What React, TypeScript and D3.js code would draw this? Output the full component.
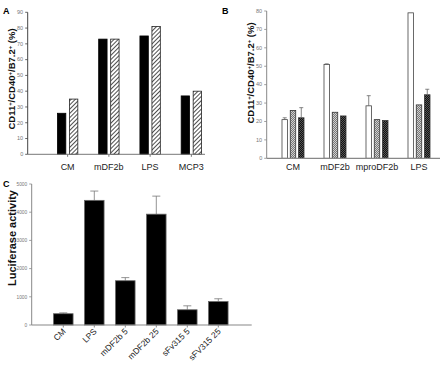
import React, { useEffect, useRef } from 'react'
import * as d3 from 'd3'

// panel A
const catsA = ['CM', 'mDF2b', 'LPS', 'MCP3']
const seriesA = ['solid', 'hatch']
const valuesA = [
  [26, 35],
  [73, 73],
  [75, 81],
  [37, 40]
]
const ticksA = [0, 10, 20, 30, 40, 50, 60, 70, 80, 90]

// panel B
const catsB = ['CM', 'mDF2b', 'mproDF2b', 'LPS']
const seriesB = ['white', 'gray', 'dark']
const valuesB = [
  [21, 26, 22],
  [51, 25, 23],
  [28.5, 21, 20.5],
  [79, 29, 34.5]
]
const errorsB = [
  [1, 0, 5.5],
  [0.3, 0, 0],
  [5.5, 0, 0],
  [0, 0, 3]
]
const ticksB = [0, 10, 20, 30, 40, 50, 60, 70, 80]

// panel C
const catsC = ['CM', 'LPS', 'mDF2b 5', 'mDF2b 25', 'sFv315 5', 'sFV315 25']
const valuesC = [400, 4420, 1570, 3930, 540, 830]
const errorsC = [30, 330, 110, 640, 140, 100]
const ticksC = [0, 1000, 2000, 3000, 4000, 5000]

const FONT = '"Liberation Sans", Arial, sans-serif'

const App = () => {
  const ref = useRef<SVGSVGElement>(null)

  useEffect(() => {
    const svg = d3.select(ref.current)
    svg.selectAll('*').remove()

    // 图案
    const defs = svg.append('defs')
    const hatch = defs
      .append('pattern')
      .attr('id', 'hatch')
      .attr('patternUnits', 'userSpaceOnUse')
      .attr('width', 3)
      .attr('height', 10)
      .attr('patternTransform', 'rotate(45)')
    hatch.append('rect').attr('width', 3).attr('height', 10).attr('fill', '#fff')
    hatch
      .append('line')
      .attr('x1', 0.5)
      .attr('y1', 0)
      .attr('x2', 0.5)
      .attr('y2', 10)
      .attr('stroke', '#222')
      .attr('stroke-width', 0.8)

    function checker(id: string, c1: string, c2: string) {
      const p = defs
        .append('pattern')
        .attr('id', id)
        .attr('patternUnits', 'userSpaceOnUse')
        .attr('width', 2)
        .attr('height', 2)
      p.append('rect').attr('width', 2).attr('height', 2).attr('fill', c1)
      p.append('rect').attr('width', 1).attr('height', 1).attr('fill', c2)
      p.append('rect').attr('x', 1).attr('y', 1).attr('width', 1).attr('height', 1).attr('fill', c2)
    }
    checker('checkGray', '#777', '#d0d0d0')
    checker('checkDark', '#111', '#555')

    // 坐标轴通用
    function yAxis(g: any, scale: any, ticks: number[], x: number, color: string, fs = 5.5) {
      g.append('line')
        .attr('x1', x)
        .attr('x2', x)
        .attr('y1', scale(ticks[ticks.length - 1]))
        .attr('y2', scale(0))
        .attr('stroke', color)
        .attr('stroke-width', 1)
      ticks.forEach((t) => {
        g.append('line')
          .attr('x1', x - 2.5)
          .attr('x2', x)
          .attr('y1', scale(t))
          .attr('y2', scale(t))
          .attr('stroke', color)
          .attr('stroke-width', 0.8)
        g.append('text')
          .text(t)
          .attr('x', x - 4.5)
          .attr('y', scale(t) + 1.8)
          .attr('text-anchor', 'end')
          .style('font-size', fs + 'px')
          .style('font-family', FONT)
          .attr('fill', '#777')
      })
    }

    function yTitle(g: any, x: number, y: number, size: number, parts: [string, boolean][]) {
      const t = g
        .append('text')
        .attr('transform', `translate(${x},${y}) rotate(-90)`)
        .attr('text-anchor', 'middle')
        .style('font-size', size + 'px')
        .style('font-weight', 'bold')
        .style('font-family', FONT)
        .attr('fill', '#111')
      parts.forEach(([s, sup]) => {
        t.append('tspan')
          .text(s)
          .attr('baseline-shift', sup ? 'super' : null)
          .style('font-size', sup ? size * 0.62 + 'px' : null)
      })
    }

    const cdTitle: [string, boolean][] = [
      ['CD11', false],
      ['+', true],
      ['/CD40', false],
      ['+', true],
      ['/B7.2', false],
      ['+', true],
      [' (%)', false]
    ]

    function letter(s: string, x: number, y: number) {
      svg
        .append('text')
        .text(s)
        .attr('x', x)
        .attr('y', y)
        .style('font-size', '9px')
        .style('font-weight', 'bold')
        .style('font-family', FONT)
    }

    // ---------- A ----------
    const gA = svg.append('g')
    const yA = d3.scaleLinear().domain([0, 90]).range([154.3, 12.3])
    const xA = d3.scaleBand().domain(catsA).range([47, 212])
    const bwA = xA.bandwidth()
    const subA = d3
      .scaleBand()
      .domain(seriesA)
      .range([bwA / 2 - 10.2, bwA / 2 + 10.2])
      .paddingInner(0.3)

    catsA.forEach((c, i) => {
      seriesA.forEach((s, j) => {
        const v = valuesA[i][j]
        gA.append('rect')
          .attr('x', xA(c)! + subA(s)!)
          .attr('y', yA(v))
          .attr('width', subA.bandwidth())
          .attr('height', yA(0) - yA(v))
          .attr('fill', s === 'solid' ? '#000' : 'url(#hatch)')
          .attr('stroke', s === 'solid' ? '#000' : '#222')
          .attr('stroke-width', 0.8)
      })
    })
    yAxis(gA, yA, ticksA, 27.7, '#444')
    gA.append('line')
      .attr('x1', 27.7)
      .attr('x2', 205)
      .attr('y1', yA(0))
      .attr('y2', yA(0))
      .attr('stroke', '#777')
      .attr('stroke-width', 1)
    catsA.forEach((c) => {
      const cx = xA(c)! + bwA / 2
      gA.append('line')
        .attr('x1', cx)
        .attr('x2', cx)
        .attr('y1', yA(0))
        .attr('y2', yA(0) + 2.5)
        .attr('stroke', '#777')
      gA.append('text')
        .text(c)
        .attr('x', cx)
        .attr('y', 169.5)
        .attr('text-anchor', 'middle')
        .style('font-size', '9px')
        .style('font-family', FONT)
        .attr('fill', '#222')
    })
    yTitle(gA, 15, 79, 9.5, cdTitle)
    letter('A', 3, 14)

    // ---------- B ----------
    const gB = svg.append('g')
    const yB = d3.scaleLinear().domain([0, 80]).range([158.3, 11])
    const xB = d3.scaleBand().domain(catsB).range([272, 440])
    const bwB = xB.bandwidth()
    const subB = d3
      .scaleBand()
      .domain(seriesB)
      .range([bwB / 2 - 11, bwB / 2 + 11])
      .paddingInner(0.34)
    const fillB: Record<string, string> = {
      white: '#fff',
      gray: 'url(#checkGray)',
      dark: 'url(#checkDark)'
    }

    catsB.forEach((c, i) => {
      seriesB.forEach((s, j) => {
        const v = valuesB[i][j]
        const x0 = xB(c)! + subB(s)!
        gB.append('rect')
          .attr('x', x0)
          .attr('y', yB(v))
          .attr('width', subB.bandwidth())
          .attr('height', yB(0) - yB(v))
          .attr('fill', fillB[s])
          .attr('stroke', s === 'white' ? '#444' : '#333')
          .attr('stroke-width', 0.8)
        const e = errorsB[i][j]
        if (e > 0) {
          const cx = x0 + subB.bandwidth() / 2
          gB.append('line')
            .attr('x1', cx)
            .attr('x2', cx)
            .attr('y1', yB(v))
            .attr('y2', yB(v + e))
            .attr('stroke', '#666')
            .attr('stroke-width', 0.8)
          gB.append('line')
            .attr('x1', cx - 2)
            .attr('x2', cx + 2)
            .attr('y1', yB(v + e))
            .attr('y2', yB(v + e))
            .attr('stroke', '#666')
            .attr('stroke-width', 0.8)
        }
      })
    })
    yAxis(gB, yB, ticksB, 266.7, '#888')
    gB.append('line')
      .attr('x1', 266.7)
      .attr('x2', 440)
      .attr('y1', yB(0))
      .attr('y2', yB(0))
      .attr('stroke', '#888')
      .attr('stroke-width', 1.3)
    catsB.forEach((c) => {
      const cx = xB(c)! + bwB / 2
      gB.append('text')
        .text(c)
        .attr('x', cx)
        .attr('y', 170)
        .attr('text-anchor', 'middle')
        .style('font-size', '9px')
        .style('font-family', FONT)
        .attr('fill', '#222')
    })
    yTitle(gB, 254, 73, 9.5, cdTitle)
    letter('B', 222, 14)

    // ---------- C ----------
    const gC = svg.append('g')
    const yC = d3.scaleLinear().domain([0, 5000]).range([325, 184])
    const xC = d3
      .scaleBand()
      .domain(catsC)
      .range([47.8, 233.8])
      .paddingInner(0.37)
      .paddingOuter(0.185)

    catsC.forEach((c, i) => {
      const v = valuesC[i]
      const x0 = xC(c)!
      const cx = x0 + xC.bandwidth() / 2
      gC.append('line')
        .attr('x1', cx)
        .attr('x2', cx)
        .attr('y1', yC(v))
        .attr('y2', yC(v + errorsC[i]))
        .attr('stroke', '#777')
        .attr('stroke-width', 0.8)
      gC.append('line')
        .attr('x1', cx - 4)
        .attr('x2', cx + 4)
        .attr('y1', yC(v + errorsC[i]))
        .attr('y2', yC(v + errorsC[i]))
        .attr('stroke', '#777')
        .attr('stroke-width', 0.8)
      gC.append('rect')
        .attr('x', x0)
        .attr('y', yC(v))
        .attr('width', xC.bandwidth())
        .attr('height', yC(0) - yC(v))
        .attr('fill', '#000')
        .attr('stroke', '#666')
        .attr('stroke-width', 0.8)
    })
    yAxis(gC, yC, ticksC, 31.7, '#888', 4.8)
    gC.append('line')
      .attr('x1', 31.7)
      .attr('x2', 251.7)
      .attr('y1', yC(0))
      .attr('y2', yC(0))
      .attr('stroke', '#888')
      .attr('stroke-width', 1.2)
    catsC.forEach((c) => {
      const cx = xC(c)! + xC.bandwidth() / 2
      gC.append('line')
        .attr('x1', cx)
        .attr('x2', cx)
        .attr('y1', yC(0))
        .attr('y2', yC(0) + 2.5)
        .attr('stroke', '#888')
      gC.append('text')
        .text(c)
        .attr('transform', `translate(${cx + 3},${yC(0) + 7}) rotate(-45)`)
        .attr('text-anchor', 'end')
        .style('font-size', '8.5px')
        .style('font-family', FONT)
        .attr('fill', '#222')
    })
    yTitle(gC, 16, 238, 11, [['Luciferase activity', false]])
    letter('C', 3, 187)
  }, [])

  return (
    <svg
      ref={ref}
      width={440}
      height={367}
      style={{ position: 'absolute', left: 0, top: 0, background: '#fff' }}
    />
  )
}

export default App
